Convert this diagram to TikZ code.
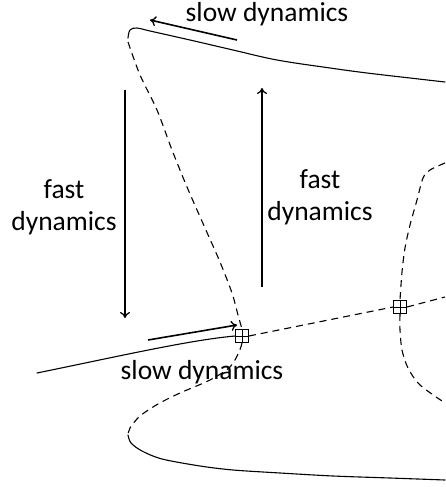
\documentclass[tikz,border=0pt]{standalone}
\usepackage{fontspec}
\setmainfont{Carlito}
\usetikzlibrary{arrows.meta}
\begin{document}
\begin{tikzpicture}[x=1pt,y=-1pt,
  curve/.style={line width=1.1pt,line cap=round},
  dashcurve/.style={line width=1.1pt,dash pattern=on 7pt off 5pt},
  dynarrow/.style={line width=1.6pt,-{To[length=6pt,width=10pt,line width=1.3pt]}},
  lbl/.style={font=\fontsize{27.5}{32}\selectfont,inner sep=0pt,align=center},
  fixpt/.style={draw,line width=0.9pt,minimum size=13pt,inner sep=0pt,
    path picture={\draw[line width=0.9pt] (path picture bounding box.north) -- (path picture bounding box.south)
      (path picture bounding box.west) -- (path picture bounding box.east);}}]
\useasboundingbox (0,0) rectangle (445,487);
% fixed points
\node[fixpt] (b1) at (242,336) {};
\node[fixpt] (b2) at (400,307) {};
\coordinate (re) at (445,297);
% top solid branch
\draw[curve] plot[smooth,tension=0.6] coordinates {(128,38) (130,30) (137,28) (150,31) (190,40) (233,50) (277,60) (330,68) (367,73) (410,78) (445,82)};
% left dashed branch
\draw[dashcurve] plot[smooth] coordinates {(128,42) (140,75) (157,110) (172,150) (187,187) (205,228) (220,262) (232,293) (238,315) (b1.north)};
\draw[dashcurve] plot[smooth] coordinates {(b1.south) (239,352) (230,367) (210,380) (180,393) (158,404) (140,416) (130,428) (128,435)};
% bottom solid branch
\draw[curve] plot[smooth] coordinates {(128,435) (131,443) (142,451) (162,459) (200,466) (233,470) (280,473) (333,476) (390,478) (445,480)};
% middle dashed line
\draw[dashcurve] (b1.east) -- (b2.west);
\draw[dashcurve] (b2.east) -- (re);
% right dashed branch
\draw[dashcurve] plot[smooth] coordinates {(445,163) (430,170) (423,178) (417,200) (410,225) (405,248) (402,272) (b2.north)};
\draw[dashcurve] plot[smooth] coordinates {(b2.south) (400,330) (402,350) (408,368) (420,385) (445,403)};
% left incoming solid line
\coordinate (ls) at (37,373);
\draw[curve] (ls) .. controls (120,356) and (190,340) .. (b1.west);
% arrows
\coordinate (ta1) at (237,40); \coordinate (ta2) at (150,20);
\coordinate (la1) at (125,90); \coordinate (la2) at (125,318);
\coordinate (ma1) at (262,287); \coordinate (ma2) at (262,88);
\coordinate (ba1) at (148,340); \coordinate (ba2) at (237,325);
\draw[dynarrow] (ta1) -- (ta2);
\draw[dynarrow] (la1) -- (la2);
\draw[dynarrow] (ma1) -- (ma2);
\draw[dynarrow] (ba1) -- (ba2);
% labels
\node[lbl,anchor=base] (tl) at (267,22) {slow dynamics};
\node[lbl,anchor=base] (bl) at (202,379) {slow dynamics};
\node[lbl] (fl) at (64,207) {fast\\dynamics};
\node[lbl] (fm) at (320,197) {fast\\dynamics};
\end{tikzpicture}
\end{document}
